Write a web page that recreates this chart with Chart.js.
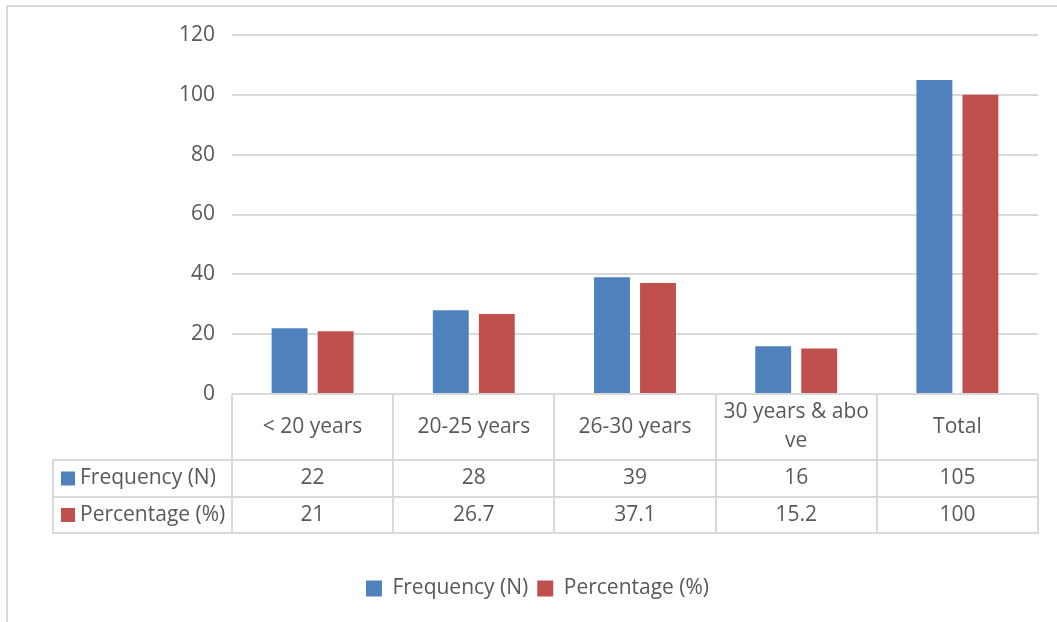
<!DOCTYPE html>
<html>
<head>
<meta charset="utf-8">
<script src="https://cdn.jsdelivr.net/npm/chart.js@4/dist/chart.umd.min.js"></script>
<style>
  html, body { margin: 0; padding: 0; background: #ffffff; }
  #wrap { width: 1057px; height: 622px; position: relative; }
</style>
</head>
<body>
<div id="wrap"><canvas id="chart" width="1057" height="622"></canvas></div>
<script>
// Age groups and their counts / shares
const categories = ['< 20 years', '20-25 years', '26-30 years', '30 years & above', 'Total'];
const frequency = [22, 28, 39, 16, 105];
const percentage = [21, 26.7, 37.1, 15.2, 100];
const seriesNames = ['Frequency (N)', 'Percentage (%)'];
const yTickValues = [0, 20, 40, 60, 80, 100, 120];

const BLUE = '#4F81BD';
const RED = '#C0504D';
const TEXT = '#595959';
const LINE = '#d9d9d9';
const FONT_FAMILY = '"Open Sans", "Liberation Sans", sans-serif';
const FONT_SIZE = 21;

// Heights of the data-table rows under the plot (category header, then one row per series)
const headerRowH = 66;
const seriesRowH = [37, 36];
const tableLeft = 53;

// Wrap a label character by character to fit a cell, the way spreadsheet tables do
function wrapChars(ctx, text, maxW) {
  const lines = [];
  let cur = '';
  for (const ch of text) {
    if (ctx.measureText(cur + ch).width > maxW && cur.length) {
      lines.push(cur);
      cur = ch;
    } else {
      cur += ch;
    }
  }
  if (cur) lines.push(cur);
  return lines;
}

const framePlugin = {
  id: 'frame',
  beforeDraw(chart) {
    const ctx = chart.ctx;
    ctx.save();
    ctx.fillStyle = '#ffffff';
    ctx.fillRect(0, 0, chart.width, chart.height);
    ctx.strokeStyle = LINE;
    ctx.lineWidth = 2;
    ctx.strokeRect(7, 6, chart.width + 20, chart.height + 20);
    ctx.restore();
  }
};

const dataTablePlugin = {
  id: 'dataTable',
  afterDraw(chart) {
    const { ctx, chartArea: ca, scales } = chart;
    const xs = scales.x;
    const n = categories.length;
    const cw = (ca.right - ca.left) / n;
    const top = ca.bottom;
    const rows = [top, top + headerRowH];
    seriesRowH.forEach(h => rows.push(rows[rows.length - 1] + h));
    const bottom = rows[rows.length - 1];

    ctx.save();
    ctx.strokeStyle = LINE;
    ctx.lineWidth = 2;
    ctx.beginPath();
    for (let i = 0; i <= n; i++) {
      const xx = Math.round(ca.left + i * cw);
      ctx.moveTo(xx, top);
      ctx.lineTo(xx, bottom);
    }
    ctx.moveTo(tableLeft, rows[1]);
    ctx.lineTo(tableLeft, bottom);
    for (let r = 1; r < rows.length; r++) {
      ctx.moveTo(tableLeft - 1, rows[r]);
      ctx.lineTo(ca.right + 1, rows[r]);
    }
    ctx.stroke();

    ctx.font = FONT_SIZE + 'px ' + FONT_FAMILY;
    ctx.fillStyle = TEXT;
    ctx.textAlign = 'center';
    ctx.textBaseline = 'middle';

    // category header row
    categories.forEach((label, i) => {
      const cx = xs.getPixelForValue(i);
      const lines = wrapChars(ctx, label, cw - 10);
      const lh = 29;
      const cy = (rows[0] + rows[1]) / 2 - (lines.length - 1) * lh / 2;
      lines.forEach((ln, k) => ctx.fillText(ln, cx, cy + k * lh));
    });

    // one row per series: swatch, name, values
    chart.data.datasets.forEach((ds, d) => {
      const cy = (rows[d + 1] + rows[d + 2]) / 2;
      ctx.fillStyle = ds.backgroundColor;
      ctx.fillRect(tableLeft + 8, cy - 7, 14, 14);
      ctx.fillStyle = TEXT;
      ctx.textAlign = 'left';
      ctx.fillText(ds.label, tableLeft + 27, cy);
      ctx.textAlign = 'center';
      ds.data.forEach((v, i) => {
        ctx.fillText(String(v), xs.getPixelForValue(i), cy);
      });
    });
    ctx.restore();
  }
};

Chart.defaults.font.family = FONT_FAMILY;
Chart.defaults.color = TEXT;

new Chart(document.getElementById('chart'), {
  type: 'bar',
  data: {
    labels: categories,
    datasets: [
      { label: seriesNames[0], data: frequency, backgroundColor: BLUE },
      { label: seriesNames[1], data: percentage, backgroundColor: RED }
    ]
  },
  options: {
    responsive: false,
    animation: false,
    devicePixelRatio: 1,
    categoryPercentage: 0.571,
    barPercentage: 0.78,
    layout: { padding: { left: 37, right: 19, top: 35, bottom: 13 } },
    plugins: {
      legend: {
        position: 'bottom',
        labels: {
          boxWidth: 16,
          boxHeight: 16,
          padding: 9,
          color: TEXT,
          font: { size: FONT_SIZE }
        }
      },
      tooltip: { enabled: false },
      title: { display: false }
    },
    scales: {
      x: {
        grid: { display: false },
        border: { display: false },
        ticks: { display: false },
        afterFit(scale) {
          scale.height = 175;
          scale.paddingLeft = 0;
          scale.paddingRight = 0;
        }
      },
      y: {
        min: yTickValues[0],
        max: yTickValues[yTickValues.length - 1],
        afterBuildTicks(scale) {
          scale.ticks = yTickValues.map(v => ({ value: v }));
        },
        grid: { color: LINE, lineWidth: 2, drawTicks: false },
        border: { display: false },
        ticks: {
          padding: 17,
          color: TEXT,
          font: { size: FONT_SIZE }
        },
        afterFit(scale) {
          scale.width = 195;
          scale.paddingTop = 0;
          scale.paddingBottom = 0;
        }
      }
    }
  },
  plugins: [framePlugin, dataTablePlugin]
});
</script>
</body>
</html>
